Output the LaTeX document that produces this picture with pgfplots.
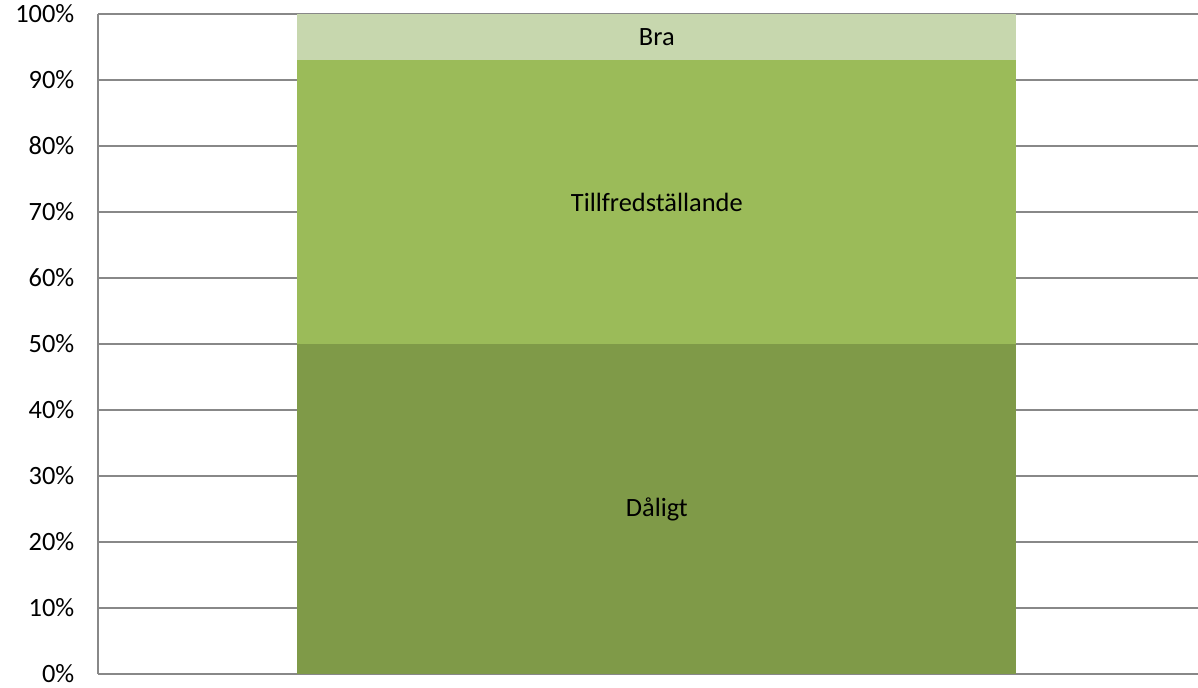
\documentclass[border=0pt]{standalone}
\usepackage{fontspec}
\setmainfont{Carlito}
\usepackage{pgfplots}
\pgfplotsset{compat=1.18}

\definecolor{dalig}{HTML}{7F9A48}
\definecolor{tillf}{HTML}{9BBB59}
\definecolor{bra}{HTML}{C7D7AE}
\definecolor{gridgray}{HTML}{888888}

\begin{document}
\begin{tikzpicture}[font=\fontsize{13.2pt}{15pt}\selectfont]
\begin{axis}[
    at={(0,0)}, anchor=south west,
    scale only axis,
    width=550pt, height=330pt,
    ybar stacked,
    bar width=359.5pt,
    xmin=-0.508, xmax=0.492,
    ymin=0, ymax=100,
    ytick={0,10,...,100},
    xtick=\empty,
    ymajorgrids=true,
    grid style={gridgray, line width=0.75pt},
    axis x line*=bottom,
    axis y line*=left,
    axis line style={gridgray, line width=0.75pt, -},
    major tick length=0pt,
    /pgf/number format/assume math mode=true,
    yticklabel={\pgfmathprintnumber{\tick}\%},
    yticklabel style={xshift=-8.3pt},
    point meta=explicit symbolic,
    nodes near coords,
    every node near coord/.style={anchor=center, text=black},
    clip=false,
]
\addplot[fill=dalig, draw=none] coordinates {(0,50) [Dåligt]};
\addplot[fill=tillf, draw=none] coordinates {(0,43) [Tillfredställande]};
\addplot[fill=bra, draw=none] coordinates {(0,7) [Bra]};
\end{axis}
\pgfresetboundingbox
\path (-49pt,-7pt) rectangle (550pt,337pt);
\end{tikzpicture}
\end{document}
